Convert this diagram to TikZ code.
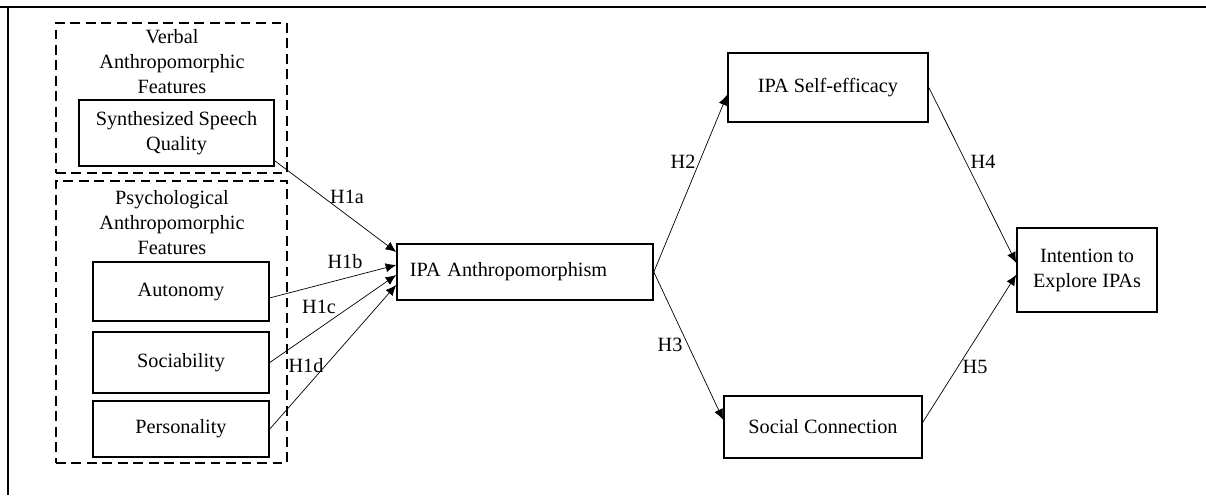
\documentclass[tikz,border=0pt]{standalone}
\usepackage{fontspec}
\setmainfont{Liberation Serif}
\usetikzlibrary{arrows.meta}
\begin{document}
\begin{tikzpicture}[x=0.025cm,y=-0.025cm,
	every node/.style={font=\fontsize{14.4}{17.8}\selectfont},
	box/.style={draw,line width=1.1pt,align=center,inner sep=0pt},
	featgroup/.style={draw,line width=1.1pt,dash pattern=on 7pt off 4pt,inner sep=0pt},
	hyp/.style={line width=0.5pt,-{Latex[length=7.5pt,width=6.5pt]}}]
	\useasboundingbox (0,0) rectangle (1206,495);
	% frame
	\draw[line width=1.2pt] (0,7) -- (1206,7);
	\draw[line width=1.2pt] (8,7) -- (8,495);
	% feature groups
	\node[featgroup,minimum width=5.775cm,minimum height=3.75cm] (verbal) at (171.5,98) {};
	\node[featgroup,minimum width=5.775cm,minimum height=7.05cm] (psych) at (171.5,322) {};
	\node[align=center] (verbtitle) at (172,62) {Verbal\\Anthropomorphic\\Features};
	\node[align=center] (psychtitle) at (172,223) {Psychological\\Anthropomorphic\\Features};
	% constructs
	\node[box,minimum width=4.875cm,minimum height=1.65cm] (synth) at (176.5,133) {Synthesized Speech\\Quality};
	\node[box,minimum width=4.4cm,minimum height=1.475cm] (auton) at (181,291.5) {Autonomy};
	\node[box,minimum width=4.4cm,minimum height=1.525cm] (socia) at (181,362.5) {Sociability};
	\node[box,minimum width=4.4cm,minimum height=1.4cm] (perso) at (181,429) {Personality};
	\node[box,minimum width=6.4cm,minimum height=1.4cm,inner xsep=0.325cm,text width=5.75cm,align=left] (anthro) at (525,272) {IPA Anthropomorphism};
	\node[box,minimum width=5cm,minimum height=1.725cm] (selfeff) at (828,87.5) {IPA Self-efficacy};
	\node[box,minimum width=4.95cm,minimum height=1.55cm] (socconn) at (823,427) {Social Connection};
	\node[box,minimum width=3.5cm,minimum height=2.1cm] (intent) at (1087,270) {Intention to\\Explore IPAs};
	% paths
	\draw[hyp] ([yshift=0.15cm]synth.south east) -- ([yshift=0.5cm]anthro.west);
	\draw[hyp] ([yshift=-0.16cm]auton.east) -- ([yshift=0.175cm]anthro.west);
	\draw[hyp] (socia.east) -- ([yshift=-0.075cm]anthro.west);
	\draw[hyp] (perso.east) -- ([yshift=-0.325cm]anthro.west);
	\draw[hyp] (anthro.east) -- ([yshift=-0.18cm]selfeff.west);
	\draw[hyp] (anthro.east) -- ([yshift=0.18cm]socconn.west);
	\draw[hyp] (selfeff.east) -- ([yshift=0.18cm]intent.west);
	\draw[hyp] ([yshift=0.12cm]socconn.east) -- ([yshift=-0.12cm]intent.west);
	\node (h1a) at (347,197) {H1a};
	\node (h1b) at (345,262) {H1b};
	\node (h1c) at (319,307) {H1c};
	\node (h1d) at (306,366) {H1d};
	\node (h2) at (683,162) {H2};
	\node (h3) at (670,345) {H3};
	\node (h4) at (983,162) {H4};
	\node (h5) at (975,367) {H5};
\end{tikzpicture}
\end{document}
